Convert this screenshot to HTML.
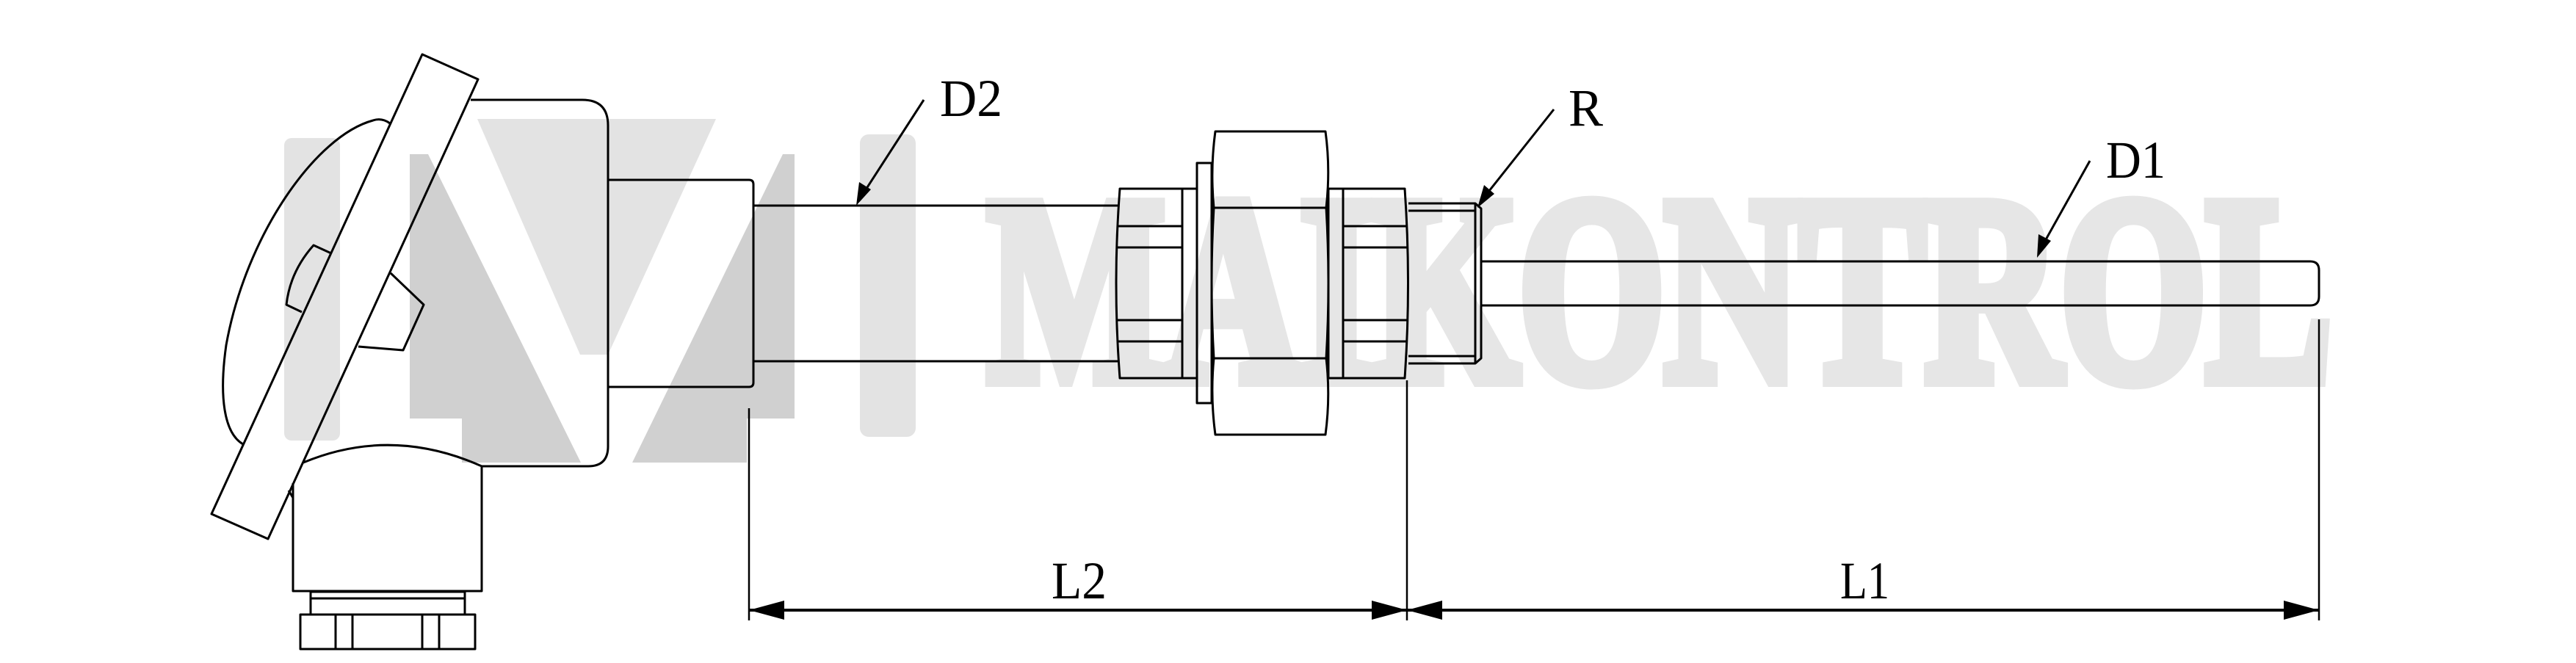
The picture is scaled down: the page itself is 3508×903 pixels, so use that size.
<!DOCTYPE html>
<html><head><meta charset="utf-8"><style>
html,body{margin:0;padding:0;background:#fff;}
svg{display:block;}
.t{font-family:"Liberation Serif","Times New Roman",Times,serif;}
</style></head><body>
<svg width="3508" height="903" viewBox="0 0 3508 903" xmlns="http://www.w3.org/2000/svg">
<g fill="#e3e3e3" stroke="none">
<rect x="387" y="188" width="76" height="412" rx="10"/>
<polygon points="650,162 975,162 828,483 790,483"/>
<rect x="1171" y="183" width="76" height="412" rx="12"/>
</g>
<g fill="#d0d0d0" stroke="none">
<polygon points="558,210 583,210 791,630 629,630 629,570 558,570"/>
<polygon points="1066,210 1082,210 1082,570 1017,570 1017,630 861,630"/>
</g>
<text class="t" x="1345" y="516" font-weight="bold" font-size="360" fill="#e6e6e6" stroke="#e6e6e6" stroke-width="22" stroke-linejoin="miter" textLength="1830" lengthAdjust="spacingAndGlyphs">MAIKONTROL</text>

<g fill="none" stroke="#000" stroke-width="3" stroke-linejoin="round">
<path d="M531 168 Q520 160 508 164 C430 185 335 320 308 470 C298 540 305 590 331 605"/>
<path d="M451 345 L427 334 Q395 370 390 415 L411 425"/>
<polygon points="575,74 651,108 365,734 288,700"/>
<path d="M532 372 L577 415 L549 477 L488 472"/>
<path d="M641 136 L793 136 Q828 136 828 171 L828 608 Q828 635 801 635 L656 635"/>
<path d="M413 630 Q533 580 656 635 L656 805 L399 805 L399 658"/>
<path d="M393 668 L399 678"/>
<rect x="423" y="806" width="210" height="31"/>
<line x1="423" y1="815" x2="633" y2="815"/>
<rect x="409" y="837" width="238" height="47"/>
<line x1="457" y1="837" x2="457" y2="884"/>
<line x1="480" y1="837" x2="480" y2="884"/>
<line x1="575" y1="837" x2="575" y2="884"/>
<line x1="598" y1="837" x2="598" y2="884"/>
<path d="M828 245 L1020 245 Q1026 245 1026 251 L1026 521 Q1026 527 1020 527 L828 527"/>
<line x1="1026" y1="280" x2="1523" y2="280"/>
<line x1="1026" y1="492" x2="1523" y2="492"/>
<path d="M1525 257 L1610 257 L1610 515 L1525 515 Q1515 386 1525 257 Z"/>
<line x1="1522" y1="308" x2="1610" y2="308"/><line x1="1521" y1="337" x2="1610" y2="337"/>
<line x1="1521" y1="436" x2="1610" y2="436"/><line x1="1522" y1="465" x2="1610" y2="465"/>
<rect x="1610" y="257" width="20" height="258"/>
<rect x="1630" y="222" width="20" height="327"/>
<path d="M1655 179 L1805 179 Q1812 230 1806 283 Q1812 386 1806 488 Q1812 540 1805 592 L1655 592 Q1648 540 1653 488 Q1647 386 1653 283 Q1648 230 1655 179 Z"/>
<line x1="1653" y1="283" x2="1806" y2="283"/><line x1="1653" y1="488" x2="1806" y2="488"/>
<rect x="1809" y="257" width="20" height="258"/>
<path d="M1829 257 L1913 257 Q1922 386 1913 515 L1829 515 Z"/>
<line x1="1829" y1="308" x2="1916" y2="308"/><line x1="1829" y1="337" x2="1917" y2="337"/>
<line x1="1829" y1="436" x2="1917" y2="436"/><line x1="1829" y1="465" x2="1916" y2="465"/>
<path d="M1918 277 L2009 277 L2017 284 L2017 488 L2009 495 L1918 495"/>
<line x1="1918" y1="287" x2="2009" y2="287"/><line x1="1918" y1="485" x2="2009" y2="485"/>
<line x1="2009" y1="277" x2="2009" y2="495"/>
<path d="M2017 356 L3146 356 Q3158 356 3158 368 L3158 404 Q3158 416 3146 416 L2017 416"/>
</g>

<g stroke="#000" stroke-width="2.5" fill="none">
<line x1="1020" y1="556" x2="1020" y2="845"/>
<line x1="1916" y1="518" x2="1916" y2="845"/>
<line x1="3158" y1="435" x2="3158" y2="845"/>
<line x1="1020" y1="831" x2="3158" y2="831" stroke-width="4"/>
</g>
<g fill="#000">
<polygon points="1020,831 1068,818 1068,844"/>
<polygon points="1916,831 1868,818 1868,844"/>
<polygon points="1916,831 1964,818 1964,844"/>
<polygon points="3158,831 3110,818 3110,844"/>
</g>
<g stroke="#000" stroke-width="3">
<line x1="1258" y1="136" x2="1174" y2="266"/>
<line x1="2116" y1="149" x2="2020" y2="270"/>
<line x1="2846" y1="219" x2="2780" y2="337"/>
</g>
<g fill="#000">
<polygon points="1166,280 1170,248 1186,258"/>
<polygon points="2012,283 2021,252 2035,264"/>
<polygon points="2774,351 2776,319 2793,328"/>
</g>
<g class="t" font-size="72" fill="#000">
<text x="1280" y="158" textLength="85" lengthAdjust="spacingAndGlyphs">D2</text>
<text x="2136" y="171" textLength="47" lengthAdjust="spacingAndGlyphs">R</text>
<text x="2868" y="242" textLength="81" lengthAdjust="spacingAndGlyphs">D1</text>
<text x="1432" y="815" textLength="75" lengthAdjust="spacingAndGlyphs">L2</text>
<text x="2506" y="815" textLength="67" lengthAdjust="spacingAndGlyphs">L1</text>
</g>
</svg>
</body></html>
